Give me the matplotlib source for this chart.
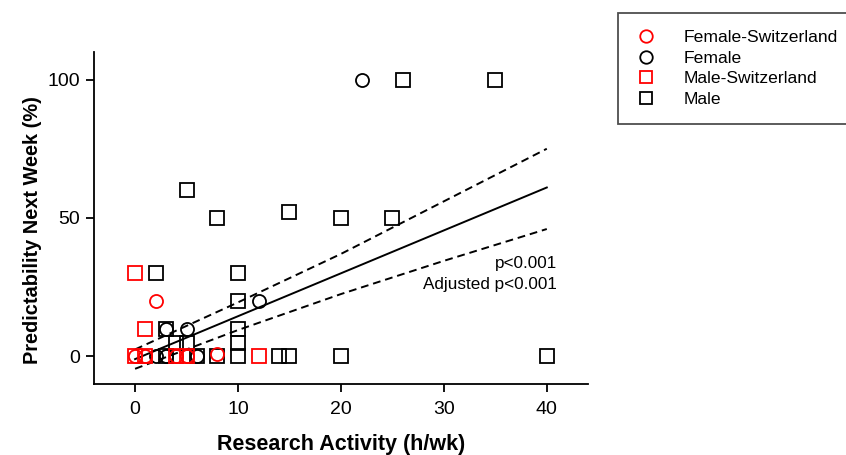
import matplotlib
matplotlib.use("Agg")
import matplotlib.pyplot as plt
from matplotlib.lines import Line2D

plt.rcParams['font.family'] = ['Liberation Sans', 'DejaVu Sans']

# Data (hours/week, predictability %)
male_x = [26, 35, 5, 8, 15, 20, 25, 2, 10, 10, 3, 10, 4, 5, 10, 3, 6, 8, 10, 14, 15, 20, 40]
male_y = [100, 100, 60, 50, 52, 50, 50, 30, 30, 20, 10, 10, 5, 5, 5, 0, 0, 0, 0, 0, 0, 0, 0]

female_x = [22, 12, 3, 5, 2, 3, 6]
female_y = [100, 20, 10, 10, 0, 0, 0]

male_ch_x = [0, 1, 0, 1, 4, 5, 12]
male_ch_y = [30, 10, 0, 0, 0, 0, 0]

female_ch_x = [2, 0, 1, 4, 5, 8]
female_ch_y = [20, 0, 0, 0, 0, 1]

# Regression line and 95% confidence band
fit_x = [0, 10, 20, 30, 40]
fit_y = [-1, 14.5, 30, 45.5, 61]
ci_upper = [2.5, 19.5, 37, 56, 75]
ci_lower = [-4.5, 9.5, 22.5, 34.5, 46]

x_ticks = [0, 10, 20, 30, 40]
y_ticks = [0, 50, 100]

fig = plt.figure(figsize=(8.46, 4.55), dpi=100)
ax = fig.add_axes([0.111, 0.156, 0.584, 0.730])

ms = 9.4
mew = 1.3
ax.plot(male_x, male_y, 's', ms=ms, mfc='none', mec='black', mew=mew, ls='none', zorder=3)
ax.plot(female_x, female_y, 'o', ms=ms, mfc='none', mec='black', mew=mew, ls='none', zorder=3)
ax.plot(male_ch_x, male_ch_y, 's', ms=ms, mfc='none', mec='#ff0000', mew=mew, ls='none', zorder=4)
ax.plot(female_ch_x, female_ch_y, 'o', ms=ms, mfc='none', mec='#ff0000', mew=mew, ls='none', zorder=4)

ax.plot(fit_x, fit_y, '-', color='black', lw=1.4, zorder=2)
ax.plot(fit_x, ci_upper, '--', color='black', lw=1.4, dashes=(4, 2.5), zorder=2)
ax.plot(fit_x, ci_lower, '--', color='black', lw=1.4, dashes=(4, 2.5), zorder=2)

ax.text(41, 33.5, 'p<0.001', ha='right', va='center', fontsize=12.3)
ax.text(41, 26, 'Adjusted p<0.001', ha='right', va='center', fontsize=12.3)

ax.set_xlim(-4, 44)
ax.set_ylim(-10, 110)
ax.set_xticks(x_ticks)
ax.set_yticks(y_ticks)
ax.tick_params(axis='both', direction='out', length=6, width=1.3, labelsize=14, pad=4)
ax.tick_params(axis='x', pad=6)
for s in ['top', 'right']:
    ax.spines[s].set_visible(False)
for s in ['left', 'bottom']:
    ax.spines[s].set_linewidth(1.3)

ax.set_xlabel('Research Activity (h/wk)', fontsize=15.5, fontweight='bold', labelpad=12)
ax.set_ylabel('Predictability Next Week (%)', fontsize=14.4, fontweight='bold')
ax.yaxis.set_label_coords(-0.106, 0.464)

handles = [
    Line2D([], [], marker='o', ls='none', ms=9, mfc='none', mec='#ff0000', mew=mew),
    Line2D([], [], marker='o', ls='none', ms=9, mfc='none', mec='black', mew=mew),
    Line2D([], [], marker='s', ls='none', ms=9, mfc='none', mec='#ff0000', mew=mew),
    Line2D([], [], marker='s', ls='none', ms=9, mfc='none', mec='black', mew=mew),
]
labels = ['Female-Switzerland', 'Female', 'Male-Switzerland', 'Male']
leg = fig.legend(handles, labels, loc='upper left', bbox_to_anchor=(0.731, 0.972),
                 fontsize=12.6, frameon=True, fancybox=False, edgecolor='#222222',
                 handlelength=1.2, handletextpad=1.5, labelspacing=0.3,
                 borderpad=1.0, borderaxespad=0)
leg.get_frame().set_linewidth(1.3)

fig.savefig('out.png', dpi=100)
